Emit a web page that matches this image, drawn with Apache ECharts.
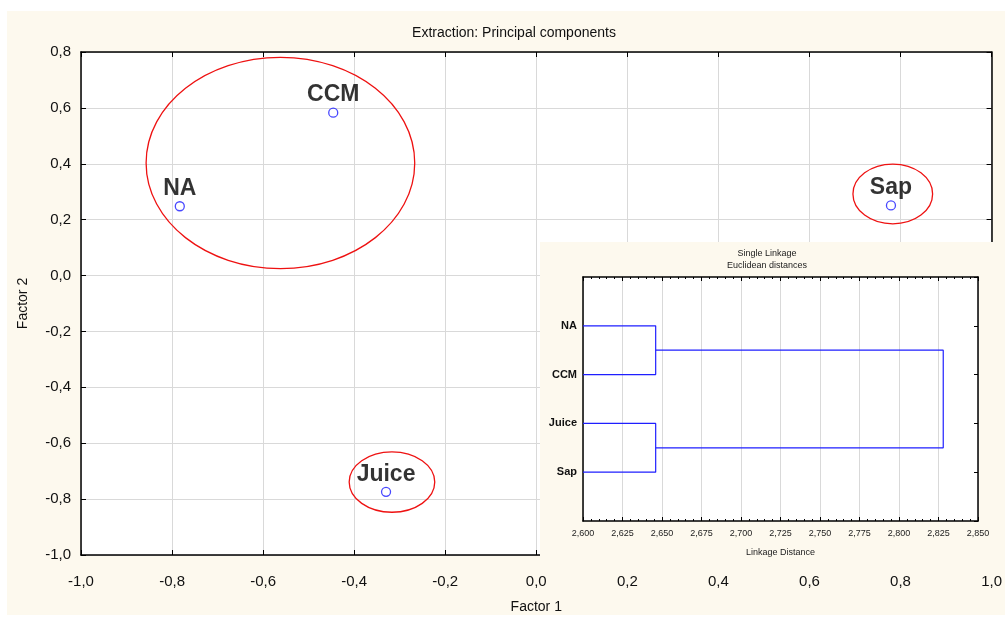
<!DOCTYPE html>
<html>
<head>
<meta charset="utf-8">
<script src="https://cdn.jsdelivr.net/npm/echarts@6/dist/echarts.min.js"></script>
<style>html,body{margin:0;padding:0;background:#fff}#c{width:1005px;height:619px}</style>
</head>
<body>
<div id="c"></div>
<script>
// ---- data ----
var pointNames = ['NA', 'CCM', 'Sap', 'Juice'];
var factor1 = [-0.783, -0.446, 0.779, -0.330];
var factor2 = [0.248, 0.583, 0.251, -0.774];

// cluster ellipses: center x, center y, radius x, radius y (data units)
var ellipseCx = [-0.562, 0.783, -0.317];
var ellipseCy = [0.403, 0.292, -0.739];
var ellipseRx = [0.295, 0.0875, 0.094];
var ellipseRy = [0.378, 0.107, 0.108];

var mainXTicks = [-1.0, -0.8, -0.6, -0.4, -0.2, 0.0, 0.2, 0.4, 0.6, 0.8, 1.0];
var mainYTicks = [-1.0, -0.8, -0.6, -0.4, -0.2, 0.0, 0.2, 0.4, 0.6, 0.8];

// dendrogram (single linkage)
var leaves = ['NA', 'CCM', 'Juice', 'Sap'];
var linkBase = 2.600;
var mergeHeights = [2.646, 2.646, 2.828]; // NA+CCM, Juice+Sap, both clusters
var linkTicks = [2.600, 2.625, 2.650, 2.675, 2.700, 2.725, 2.750, 2.775, 2.800, 2.825, 2.850];

var FONT = 'Arial, Liberation Sans, sans-serif';
function comma(v, d) { return v.toFixed(d).replace('.', ','); }

function bracket(x0a, ya, x0b, yb, h) {
  return [[x0a, ya], [h, ya], [h, yb], [x0b, yb]];
}
var dendroLines = [
  bracket(linkBase, 1, linkBase, 2, mergeHeights[0]),
  bracket(linkBase, 3, linkBase, 4, mergeHeights[1]),
  bracket(mergeHeights[0], 1.5, mergeHeights[1], 3.5, mergeHeights[2])
];

var chart = echarts.init(document.getElementById('c'), null, {renderer: 'canvas'});

var scatterData = pointNames.map(function (n, i) { return {name: n, value: [factor1[i], factor2[i]]}; });
var ellipseData = ellipseCx.map(function (c, i) { return [c, ellipseCy[i], ellipseRx[i], ellipseRy[i]]; });

var dendroSeries = dendroLines.map(function (pts) {
  return {
    type: 'line', xAxisIndex: 2, yAxisIndex: 2, data: pts, symbol: 'none',
    lineStyle: {color: '#1f1fff', width: 1.2}, zlevel: 1, z: 5, silent: true, animation: false
  };
});

var option = {
  backgroundColor: '#fdf9ee',
  animation: false,
  title: {
    text: 'Extraction: Principal components',
    left: 509, top: 21, textAlign: 'center',
    textStyle: {fontFamily: FONT, fontSize: 14, fontWeight: 'normal', color: '#111'}
  },
  graphic: [
    {type: 'rect', shape: {x: 0, y: 0, width: 1005, height: 11}, style: {fill: '#fff'}, silent: true},
    {type: 'rect', shape: {x: 0, y: 0, width: 7, height: 619}, style: {fill: '#fff'}, silent: true},
    {type: 'rect', shape: {x: 0, y: 615, width: 1005, height: 4}, style: {fill: '#fff'}, silent: true},
    {type: 'rect', zlevel: 1, z: 0, shape: {x: 540, y: 242, width: 465, height: 314}, style: {fill: '#fdf9ee'}, silent: true},
    {type: 'text', zlevel: 1, z: 6, x: 767, y: 247,
      style: {text: 'Single Linkage\nEuclidean distances', align: 'center', verticalAlign: 'top',
        font: '9px Arial, Liberation Sans, sans-serif', fill: '#222', lineHeight: 12.5}}
  ],
  grid: [
    {left: 81, right: 11, top: 52, bottom: 57, show: true, backgroundColor: '#fff', borderWidth: 0},
    {left: 583, right: 27, top: 277, bottom: 98, show: true, backgroundColor: '#fff', borderWidth: 0, zlevel: 1, z: 1}
  ],
  xAxis: [
    {
      gridIndex: 0, type: 'value', min: -1, max: 1, interval: 0.2,
      name: 'Factor 1', nameLocation: 'middle', nameGap: 45,
      nameTextStyle: {fontFamily: FONT, fontSize: 14, color: '#111'},
      axisLine: {onZero: false, lineStyle: {color: '#000', width: 1.5}},
      axisTick: {inside: true, length: 5, lineStyle: {color: '#000'}},
      axisLabel: {fontFamily: FONT, fontSize: 15, color: '#111', margin: 19,
        formatter: function (v) { return comma(v, 1); }},
      splitLine: {show: true, lineStyle: {color: '#d9d9d9', width: 1}}
    },
    {
      gridIndex: 0, type: 'value', min: -1, max: 1, interval: 0.2, position: 'top',
      axisLine: {onZero: false, lineStyle: {color: '#000', width: 1.5}},
      axisTick: {inside: true, length: 5, lineStyle: {color: '#000'}},
      axisLabel: {show: false}, splitLine: {show: false}
    },
    {
      gridIndex: 1, type: 'value', min: 2.6, max: 2.85, interval: 0.025,
      name: 'Linkage Distance', nameLocation: 'middle', nameGap: 27,
      nameTextStyle: {fontFamily: FONT, fontSize: 9, color: '#222'},
      axisLine: {onZero: false, lineStyle: {color: '#000', width: 1.5}},
      axisTick: {inside: true, length: 4, lineStyle: {color: '#000'}},
      minorTick: {show: true, splitNumber: 5, length: 2, lineStyle: {color: '#000'}},
      axisLabel: {fontFamily: FONT, fontSize: 9, color: '#222', margin: 8,
        formatter: function (v) { return comma(v, 3); }},
      splitLine: {show: true, lineStyle: {color: '#d9d9d9', width: 1}},
      zlevel: 1, z: 2
    },
    {
      gridIndex: 1, type: 'value', min: 2.6, max: 2.85, interval: 0.025, position: 'top',
      axisLine: {onZero: false, lineStyle: {color: '#000', width: 1.5}},
      axisTick: {inside: true, length: 4, lineStyle: {color: '#000'}},
      minorTick: {show: true, splitNumber: 5, length: 2, lineStyle: {color: '#000'}},
      axisLabel: {show: false}, splitLine: {show: false},
      zlevel: 1, z: 2
    }
  ],
  yAxis: [
    {
      gridIndex: 0, type: 'value', min: -1, max: 0.8, interval: 0.2,
      name: 'Factor 2', nameLocation: 'middle', nameGap: 51,
      nameTextStyle: {fontFamily: FONT, fontSize: 14, color: '#111'},
      axisLine: {onZero: false, lineStyle: {color: '#000', width: 1.5}},
      axisTick: {inside: true, length: 5, lineStyle: {color: '#000'}},
      axisLabel: {fontFamily: FONT, fontSize: 15, color: '#111', margin: 10,
        formatter: function (v) { return comma(v, 1); }},
      splitLine: {show: true, lineStyle: {color: '#d9d9d9', width: 1}}
    },
    {
      gridIndex: 0, type: 'value', min: -1, max: 0.8, interval: 0.2, position: 'right',
      axisLine: {onZero: false, lineStyle: {color: '#000', width: 1.5}},
      axisTick: {inside: true, length: 5, lineStyle: {color: '#000'}},
      axisLabel: {show: false}, splitLine: {show: false}
    },
    {
      gridIndex: 1, type: 'value', min: 0, max: 5, interval: 1, inverse: true,
      axisLine: {onZero: false, lineStyle: {color: '#000', width: 1.5}},
      axisTick: {show: false},
      axisLabel: {fontFamily: FONT, fontSize: 11, fontWeight: 'bold', color: '#111', margin: 6,
        formatter: function (v) { return (v >= 1 && v <= leaves.length) ? leaves[v - 1] : ''; }},
      splitLine: {show: false},
      zlevel: 1, z: 2
    },
    {
      gridIndex: 1, type: 'value', min: 0, max: 5, interval: 1, inverse: true, position: 'right',
      axisLine: {onZero: false, lineStyle: {color: '#000', width: 1.5}},
      axisTick: {inside: true, length: 4, lineStyle: {color: '#000'}},
      axisLabel: {show: false}, splitLine: {show: false},
      zlevel: 1, z: 2
    }
  ],
  series: [
    {
      type: 'custom', xAxisIndex: 0, yAxisIndex: 0, data: ellipseData, silent: true, clip: false,
      renderItem: function (params, api) {
        var c = api.coord([api.value(0), api.value(1)]);
        var s = api.size([api.value(2), api.value(3)]);
        return {type: 'ellipse', shape: {cx: c[0], cy: c[1], rx: s[0], ry: s[1]},
          style: {fill: 'none', stroke: '#ee1111', lineWidth: 1.3}};
      },
      z: 3
    },
    {
      type: 'scatter', xAxisIndex: 0, yAxisIndex: 0, data: scatterData,
      symbol: 'circle', symbolSize: 9,
      itemStyle: {color: 'rgba(255,255,255,0)', borderColor: '#1a1aff', borderWidth: 1.3},
      label: {show: true, position: 'top', distance: 1, formatter: '{b}',
        fontFamily: FONT, fontSize: 23, fontWeight: 'bold', color: '#000'},
      emphasis: {disabled: true},
      z: 4
    }
  ].concat(dendroSeries)
};
chart.setOption(option);
</script>
</body>
</html>
